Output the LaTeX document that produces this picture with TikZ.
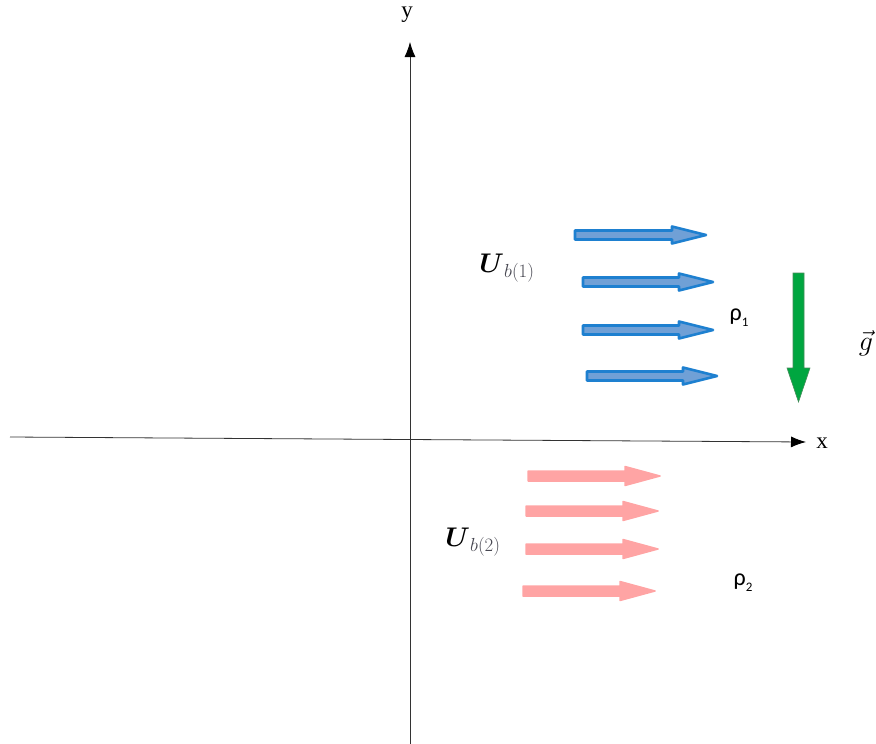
\RequirePackage{fix-cm}
\documentclass[tikz,border=0pt]{standalone}
\usepackage{fontspec}
\usepackage{bm}
\newfontfamily\serifx{Liberation Serif}
\newfontfamily\sansx{Carlito}
\definecolor{blueline}{RGB}{30,128,208}
\definecolor{bluefill}{RGB}{112,160,214}
\definecolor{pinkfill}{RGB}{255,164,164}
\definecolor{greenfill}{RGB}{0,166,64}
\definecolor{greenline}{RGB}{70,140,90}
\definecolor{subgray}{RGB}{70,70,80}
\newcommand{\flowarrow}[7][]{%
  \path[#1] (#2,#4-#5) -- (#3-#7,#4-#5) -- (#3-#7,#4-#6) -- (#3,#4) -- (#3-#7,#4+#6) -- (#3-#7,#4+#5) -- (#2,#4+#5) -- cycle;}
\tikzset{
  axis/.style={draw=black!80, line width=0.8pt, -{Latex[length=15pt,width=11pt,color=black]}},
  bluearrow/.style={draw=blueline, fill=bluefill, line width=2.6pt, line join=round},
  pinkarrow/.style={draw=pinkfill, fill=pinkfill, line width=1.5pt, line join=round},
  greenarrow/.style={draw=greenline, fill=greenfill, line width=0.6pt},
  lab/.style={inner sep=0pt, anchor=center},
}
\usetikzlibrary{arrows.meta}
\begin{document}
\begin{tikzpicture}[x=1pt,y=-1pt]
\useasboundingbox (0,0) rectangle (876,744);
% axes
\coordinate (xs) at (10,437);
\coordinate (xe) at (806,442);
\coordinate (ys) at (410,744);
\coordinate (ye) at (410,42);
\draw[axis] (xs) -- (xe);
\draw[axis] (ys) -- (ye);
\node[lab] (xl) at (822,443) {\fontsize{23}{26}\selectfont\serifx x};
\node[lab] (yl) at (407,15) {\fontsize{23}{26}\selectfont\serifx y};
% blue arrows
\flowarrow[bluearrow]{575}{706}{235}{4.5}{8.5}{34}
\flowarrow[bluearrow]{583}{713}{282}{4.5}{8.5}{34}
\flowarrow[bluearrow]{583}{713}{330}{4.5}{8.5}{34}
\flowarrow[bluearrow]{587}{717}{376}{4.5}{8.5}{34}
% pink arrows
\flowarrow[pinkarrow]{528}{660}{476}{5}{9.5}{35}
\flowarrow[pinkarrow]{526}{658}{511}{5}{9.5}{35}
\flowarrow[pinkarrow]{526}{658}{549}{5}{9.5}{35}
\flowarrow[pinkarrow]{523}{655}{591}{5}{9.5}{35}
% green gravity arrow
\path[greenarrow] (793,273) -- (804,273) -- (804,368) -- (810,368) -- (798.5,402) -- (787,368) -- (793,368) -- cycle;
% labels
\node[lab] (ub1) at (507,268) {\fontsize{27}{30}\selectfont$\bm{U}_{\,\color{subgray}b(1)}$};
\node[lab] (ub2) at (473,542) {\fontsize{27}{30}\selectfont$\bm{U}_{\,\color{subgray}b(2)}$};
\node[lab] (r1) at (739,318) {\fontsize{24}{26}\selectfont\sansx ρ\raisebox{-0.5ex}{\fontsize{13}{14}\selectfont 1}};
\node[lab] (r2) at (743,583) {\fontsize{24}{26}\selectfont\sansx ρ\raisebox{-0.5ex}{\fontsize{13}{14}\selectfont 2}};
\node[lab] (g) at (866,343) {\fontsize{28}{30}\selectfont$\vec{g}$};
\end{tikzpicture}
\end{document}
